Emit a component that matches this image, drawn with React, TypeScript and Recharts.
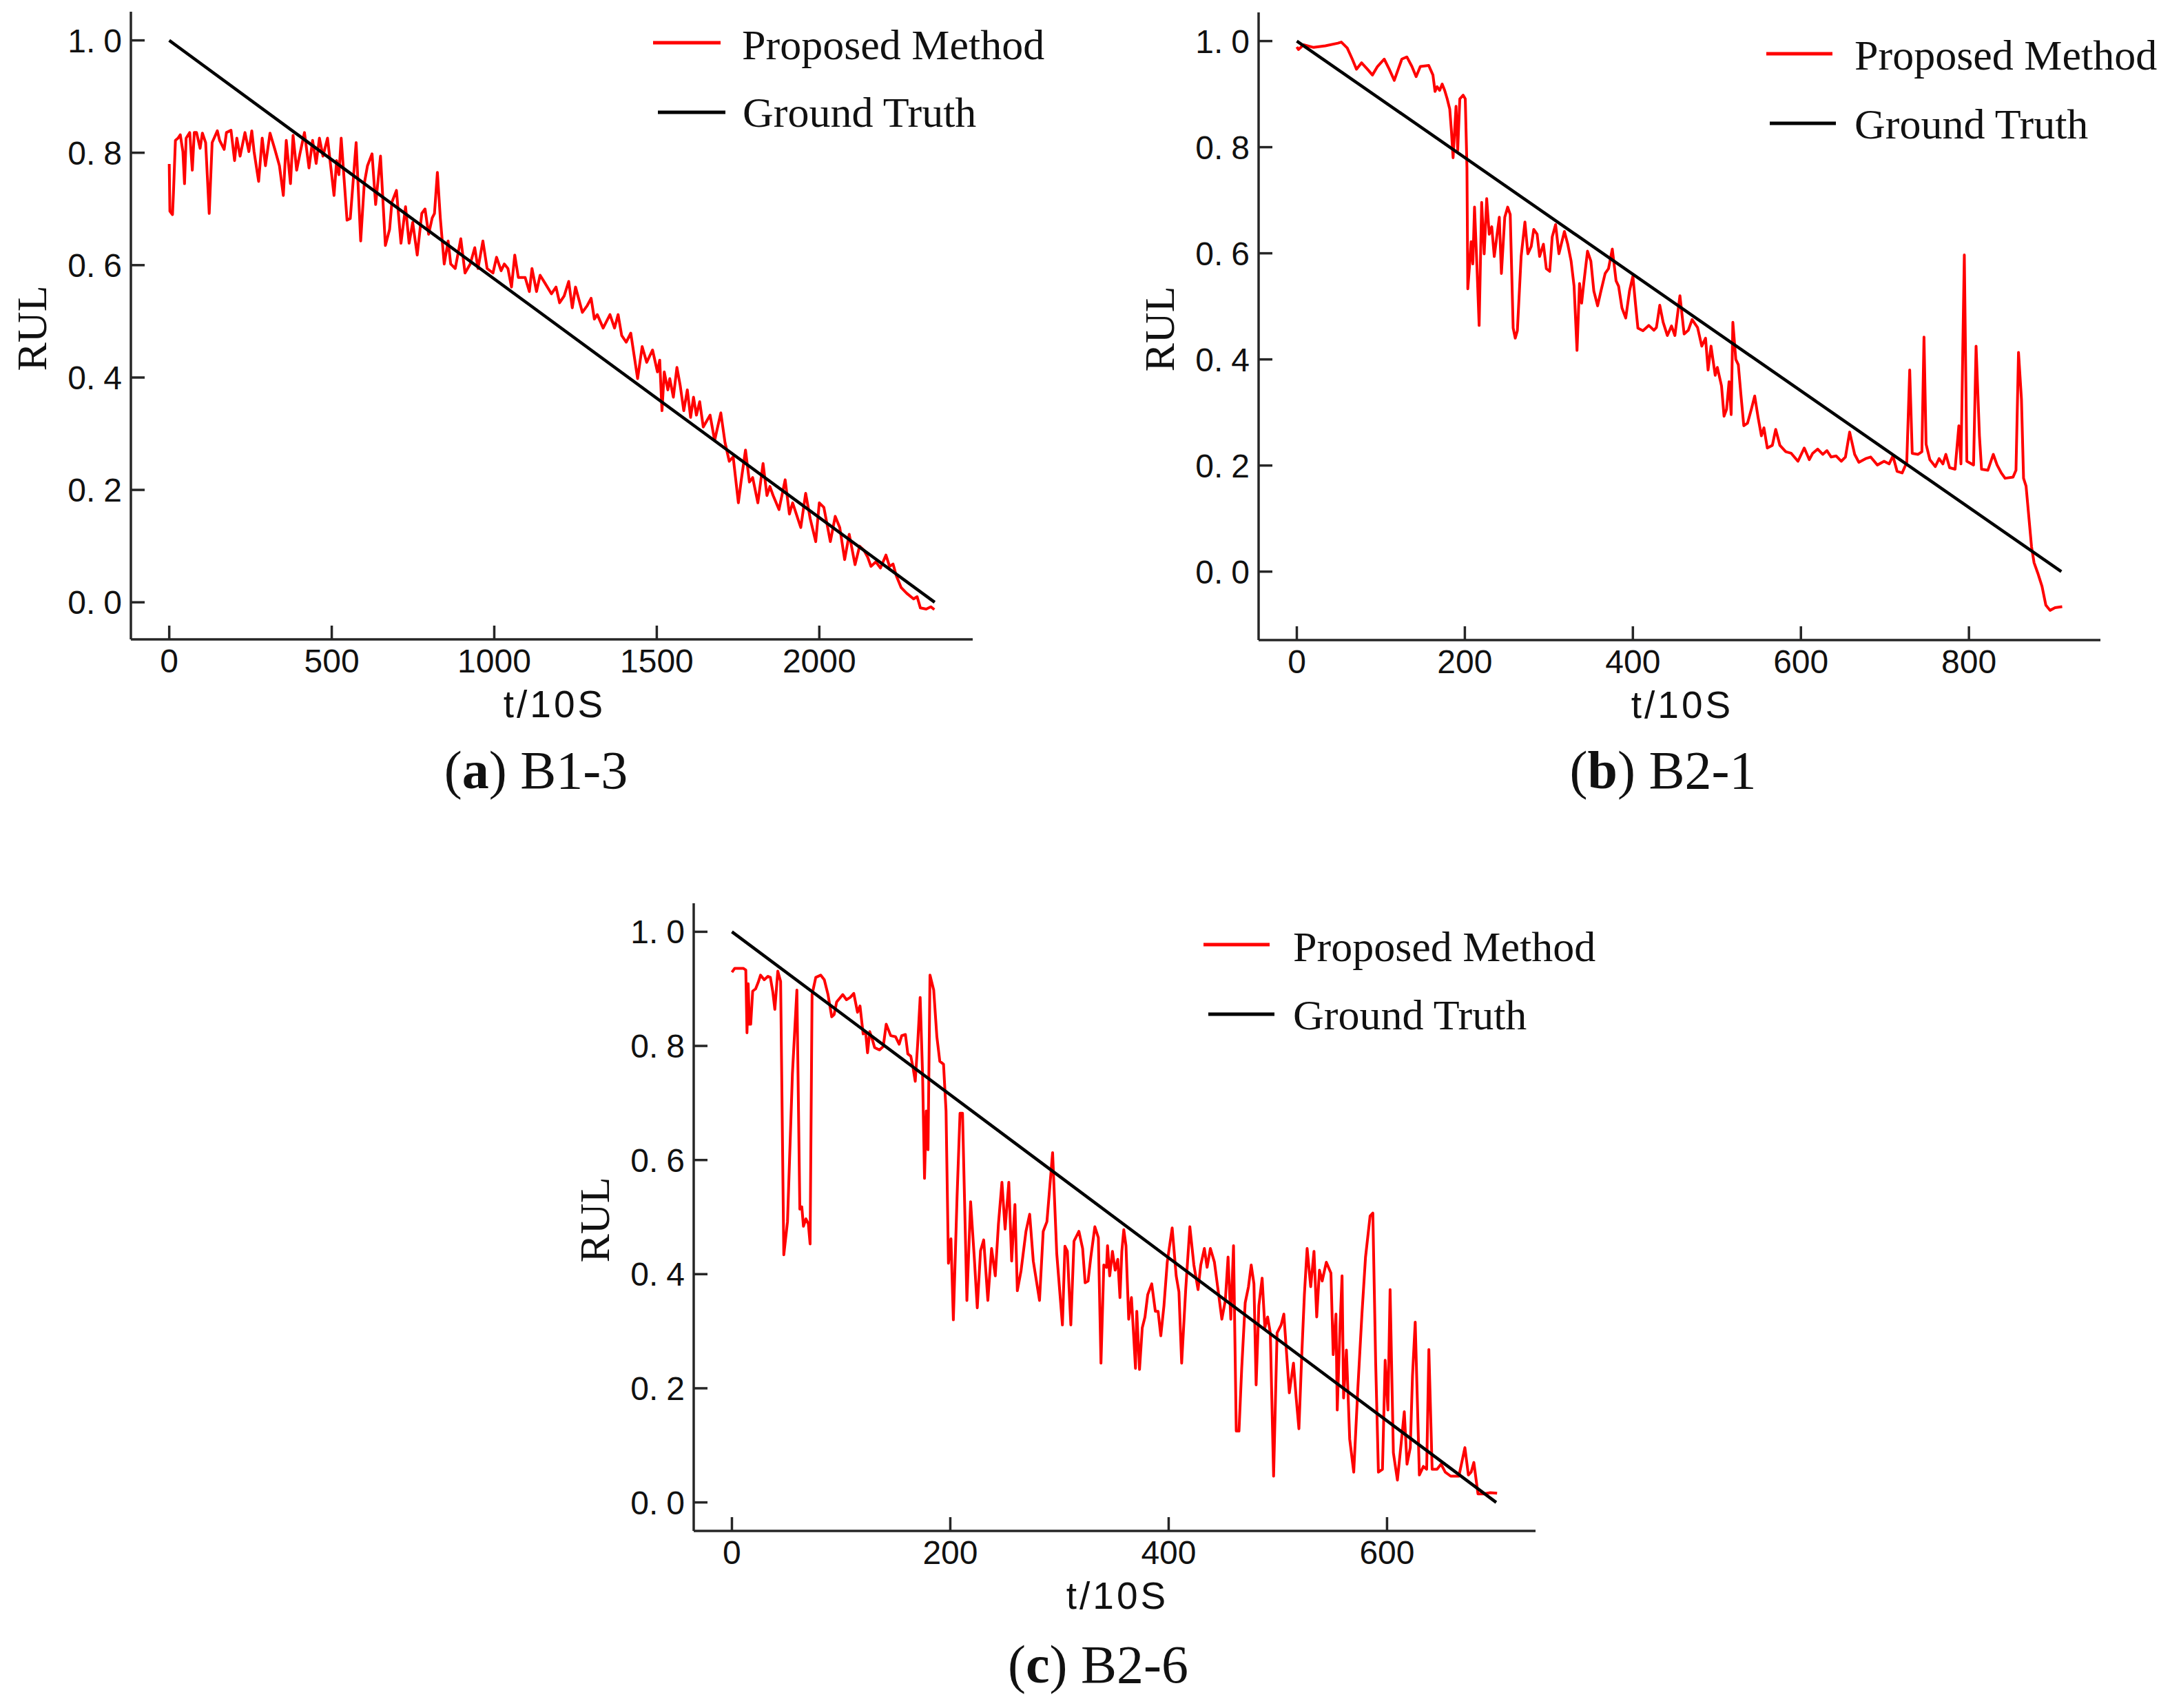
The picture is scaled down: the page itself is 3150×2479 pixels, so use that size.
import React from 'react';
import { LineChart, Line, XAxis, YAxis } from 'recharts';

type Pt = [number, number];

// RUL prediction, [t/10s, RUL]
const b13Pred: Pt[] = [
  [0, 0.78], [2, 0.696], [10, 0.69], [13, 0.729], [19, 0.822], [27, 0.826], [34, 0.832], [42, 0.802],
  [47, 0.745], [52, 0.826], [63, 0.836], [71, 0.769], [77, 0.836], [84, 0.836], [95, 0.808], [102, 0.835],
  [112, 0.818], [123, 0.692], [132, 0.818], [148, 0.839], [155, 0.822], [169, 0.806], [176, 0.836], [190, 0.84],
  [201, 0.786], [208, 0.826], [218, 0.794], [233, 0.836], [245, 0.802], [254, 0.839], [261, 0.802], [275, 0.749],
  [286, 0.826], [296, 0.777], [310, 0.835], [325, 0.806], [339, 0.777], [351, 0.724], [360, 0.822], [373, 0.745],
  [381, 0.831], [392, 0.769], [402, 0.798], [416, 0.836], [430, 0.773], [441, 0.822], [452, 0.781], [462, 0.826],
  [473, 0.794], [487, 0.826], [507, 0.724], [515, 0.786], [522, 0.761], [529, 0.826], [547, 0.68], [557, 0.683],
  [575, 0.818], [589, 0.643], [600, 0.745], [610, 0.777], [624, 0.798], [635, 0.708], [650, 0.794], [665, 0.635],
  [678, 0.664], [685, 0.712], [699, 0.733], [713, 0.639], [727, 0.704], [738, 0.639], [749, 0.676], [763, 0.618],
  [777, 0.692], [787, 0.7], [798, 0.655], [809, 0.684], [816, 0.692], [825, 0.765], [834, 0.684], [846, 0.602],
  [858, 0.643], [866, 0.602], [880, 0.594], [897, 0.647], [910, 0.586], [926, 0.602], [940, 0.631], [950, 0.594],
  [965, 0.643], [978, 0.594], [996, 0.586], [1007, 0.614], [1021, 0.59], [1031, 0.602], [1042, 0.594], [1053, 0.561],
  [1063, 0.618], [1074, 0.578], [1095, 0.578], [1108, 0.553], [1116, 0.594], [1130, 0.553], [1141, 0.582], [1155, 0.569],
  [1176, 0.549], [1190, 0.561], [1201, 0.533], [1215, 0.545], [1229, 0.571], [1240, 0.524], [1250, 0.561], [1271, 0.516],
  [1286, 0.528], [1298, 0.541], [1308, 0.504], [1317, 0.512], [1335, 0.488], [1356, 0.512], [1370, 0.488], [1381, 0.512],
  [1392, 0.475], [1406, 0.463], [1420, 0.479], [1441, 0.398], [1455, 0.455], [1469, 0.427], [1487, 0.449], [1502, 0.41],
  [1509, 0.431], [1516, 0.341], [1523, 0.41], [1534, 0.378], [1540, 0.398], [1551, 0.365], [1562, 0.418], [1572, 0.386],
  [1583, 0.341], [1594, 0.378], [1604, 0.329], [1613, 0.365], [1622, 0.333], [1632, 0.357], [1643, 0.312], [1664, 0.333],
  [1678, 0.288], [1697, 0.337], [1710, 0.284], [1723, 0.251], [1735, 0.259], [1751, 0.177], [1760, 0.218], [1773, 0.271],
  [1785, 0.214], [1795, 0.222], [1811, 0.177], [1827, 0.247], [1839, 0.19], [1848, 0.206], [1858, 0.19], [1876, 0.165],
  [1895, 0.218], [1908, 0.157], [1918, 0.177], [1943, 0.133], [1958, 0.194], [1972, 0.149], [1989, 0.108], [2000, 0.177],
  [2014, 0.169], [2034, 0.108], [2049, 0.153], [2063, 0.133], [2078, 0.076], [2092, 0.121], [2110, 0.067], [2124, 0.1],
  [2138, 0.092], [2149, 0.08], [2159, 0.064], [2174, 0.072], [2188, 0.061], [2205, 0.084], [2216, 0.064], [2227, 0.068],
  [2237, 0.047], [2252, 0.026], [2269, 0.016], [2290, 0.006], [2301, 0.01], [2311, -0.01], [2329, -0.012], [2343, -0.008],
  [2354, -0.013],
];

const b21Pred: Pt[] = [
  [0, 0.989], [2, 0.984], [8, 0.993], [20, 0.988], [34, 0.991], [49, 0.996], [53, 0.998], [60, 0.987],
  [66, 0.966], [71, 0.947], [77, 0.959], [84, 0.947], [90, 0.936], [96, 0.952], [104, 0.966], [110, 0.947],
  [116, 0.926], [125, 0.966], [131, 0.97], [137, 0.952], [142, 0.933], [147, 0.952], [157, 0.954], [162, 0.936],
  [164.5, 0.905], [167, 0.914], [170, 0.907], [173, 0.919], [176, 0.907], [179, 0.891], [182, 0.872], [184, 0.831],
  [186, 0.78], [188, 0.836], [189.5, 0.877], [191.5, 0.794], [194, 0.891], [198, 0.898], [200.5, 0.891], [202.5, 0.761],
  [203.5, 0.533], [205.5, 0.575], [207.5, 0.622], [209.5, 0.58], [211.5, 0.687], [214.5, 0.571], [217, 0.464], [220, 0.696],
  [223, 0.599], [226, 0.703], [229, 0.636], [232, 0.65], [235, 0.594], [238, 0.631], [241, 0.668], [243.5, 0.562],
  [247.5, 0.668], [251, 0.687], [254, 0.673], [257.5, 0.459], [260, 0.44], [262.5, 0.454], [267, 0.594], [271.5, 0.659],
  [275, 0.599], [279, 0.613], [282, 0.645], [286, 0.636], [289, 0.594], [293.5, 0.617], [297, 0.571], [301, 0.566],
  [304, 0.631], [308, 0.654], [312, 0.599], [315.5, 0.622], [318.5, 0.641], [322.5, 0.617], [326.5, 0.585], [330, 0.538],
  [333.5, 0.417], [336.5, 0.543], [339, 0.506], [341.5, 0.543], [346, 0.604], [350, 0.585], [353.5, 0.529], [358, 0.501],
  [362, 0.529], [367, 0.562], [371, 0.571], [375.5, 0.608], [380, 0.548], [383, 0.538], [387, 0.497], [391.5, 0.478],
  [396, 0.529], [400, 0.557], [403, 0.506], [406, 0.459], [412, 0.454], [419, 0.464], [425, 0.455], [428, 0.46],
  [432, 0.502], [436, 0.47], [441, 0.445], [446, 0.463], [450, 0.445], [456, 0.52], [461, 0.448], [466, 0.455],
  [470.5, 0.475], [477, 0.46], [482, 0.425], [486.5, 0.44], [489.5, 0.38], [493, 0.425], [498, 0.37], [500.5, 0.385],
  [505.5, 0.35], [508.5, 0.293], [511.5, 0.306], [514.5, 0.358], [517, 0.296], [519, 0.47], [522.5, 0.4], [525.5, 0.39],
  [528.5, 0.335], [532, 0.275], [536.5, 0.28], [541, 0.306], [545, 0.331], [549, 0.291], [553, 0.256], [556, 0.271],
  [560, 0.233], [566, 0.238], [570, 0.268], [575, 0.238], [582, 0.226], [588.5, 0.223], [596.5, 0.208], [604, 0.233],
  [610, 0.211], [614, 0.223], [620, 0.231], [626, 0.221], [631, 0.228], [636, 0.216], [642, 0.218], [648, 0.208],
  [653, 0.216], [658, 0.263], [664, 0.221], [669, 0.206], [677, 0.213], [683, 0.216], [691, 0.201], [699, 0.208],
  [705, 0.203], [709.5, 0.218], [714.5, 0.189], [720.5, 0.186], [726, 0.206], [729.5, 0.38], [732.5, 0.223], [739.5, 0.221],
  [744, 0.226], [746.5, 0.442], [749, 0.24], [753.5, 0.211], [760, 0.198], [764.5, 0.213], [769, 0.203], [772.5, 0.221],
  [777, 0.196], [783.5, 0.193], [788, 0.275], [790.5, 0.203], [794.5, 0.597], [797.5, 0.208], [805.5, 0.201], [808.5, 0.425],
  [812.5, 0.256], [815, 0.193], [822.5, 0.191], [829, 0.221], [833.5, 0.201], [838.5, 0.186], [843, 0.176], [852.5, 0.178],
  [856, 0.191], [859, 0.413], [862.5, 0.325], [865, 0.176], [868, 0.161], [874.5, 0.047], [877.5, 0.017], [882, -0.003],
  [887, -0.028], [891.5, -0.063], [896.5, -0.073], [902.5, -0.068], [911, -0.066],
];

const b26Pred: Pt[] = [
  [0, 0.929], [2.6, 0.936], [10.4, 0.936], [12.7, 0.933], [13.8, 0.823], [14.9, 0.909], [16, 0.838], [17.2, 0.838],
  [19, 0.896], [21.7, 0.9], [24, 0.911], [26.2, 0.924], [29.6, 0.916], [33, 0.922], [35.2, 0.92], [37.5, 0.894],
  [39.3, 0.864], [42, 0.931], [44.6, 0.913], [47.5, 0.434], [50.9, 0.492], [55.4, 0.751], [59.5, 0.898], [62.2, 0.514],
  [64, 0.518], [65.5, 0.484], [67.8, 0.497], [70, 0.488], [71.6, 0.453], [73.4, 0.89], [76.8, 0.92], [81.3, 0.924],
  [84.6, 0.916], [88, 0.89], [91.4, 0.851], [93.6, 0.855], [95.9, 0.877], [101.5, 0.89], [104.9, 0.881], [108.3, 0.885],
  [111.6, 0.892], [115, 0.859], [117.3, 0.87], [120.2, 0.821], [122.4, 0.825], [124.2, 0.788], [126.2, 0.825], [128.5, 0.812],
  [130.7, 0.797], [135.2, 0.793], [138.6, 0.799], [141.3, 0.838], [145.4, 0.818], [149.9, 0.816], [153.2, 0.803], [155.5, 0.818],
  [158.9, 0.82], [161.1, 0.786], [163.8, 0.782], [165.6, 0.765], [167.9, 0.738], [170.1, 0.803], [172.4, 0.885], [174.6, 0.751],
  [176.4, 0.568], [178, 0.686], [179.6, 0.618], [181.4, 0.924], [184.8, 0.898], [187.7, 0.816], [190.4, 0.773], [193.8, 0.768],
  [196.1, 0.686], [198.3, 0.419], [200.6, 0.462], [202.8, 0.32], [206.2, 0.536], [208.9, 0.682], [211.2, 0.682], [215.2, 0.354],
  [218.6, 0.527], [222, 0.428], [224.7, 0.341], [227.7, 0.441], [230.6, 0.46], [234.4, 0.354], [237.8, 0.445], [241.2, 0.397],
  [244.1, 0.488], [247.3, 0.561], [250.2, 0.479], [253.6, 0.561], [256.2, 0.423], [259.2, 0.522], [261.4, 0.371], [264.8, 0.406],
  [269.3, 0.475], [272.7, 0.505], [276, 0.423], [281.7, 0.354], [285.1, 0.475], [288.5, 0.492], [293.7, 0.613], [297.5, 0.436],
  [302.7, 0.311], [305, 0.449], [307.2, 0.44], [310.4, 0.311], [313.3, 0.458], [317.8, 0.475], [321.2, 0.445], [323.5, 0.385],
  [326.2, 0.388], [328.7, 0.43], [332.4, 0.483], [335.6, 0.464], [338, 0.244], [340.6, 0.416], [343.1, 0.412], [344, 0.45],
  [346, 0.397], [348.5, 0.44], [351, 0.407], [353.4, 0.426], [355.4, 0.359], [357.1, 0.44], [358.9, 0.478], [360.9, 0.45],
  [363.4, 0.321], [365.9, 0.359], [367.8, 0.297], [369.6, 0.235], [370.8, 0.335], [373.3, 0.233], [375.8, 0.306], [378.3, 0.325],
  [380.8, 0.364], [384.5, 0.383], [387.8, 0.335], [390.3, 0.335], [392.8, 0.292], [395.7, 0.345], [398.7, 0.421], [403.2, 0.481],
  [406.9, 0.397], [409.4, 0.369], [411.9, 0.244], [415.6, 0.373], [419.4, 0.483], [423.1, 0.416], [426.9, 0.373], [429.4, 0.416],
  [432.7, 0.445], [435.2, 0.412], [438.2, 0.445], [441.9, 0.421], [445.2, 0.373], [448.7, 0.321], [451.9, 0.354], [454.4, 0.43],
  [456.9, 0.321], [459.4, 0.45], [461.9, 0.125], [464.4, 0.125], [466.9, 0.235], [470.1, 0.35], [473.1, 0.378], [475.6, 0.416],
  [478.1, 0.383], [480.1, 0.206], [482.6, 0.345], [485.6, 0.393], [488.1, 0.306], [490.6, 0.325], [493.1, 0.297], [496.1, 0.046],
  [499.3, 0.297], [503, 0.311], [505.5, 0.33], [510.5, 0.192], [514.3, 0.244], [516.8, 0.183], [519.3, 0.129], [521.8, 0.254],
  [524.3, 0.364], [526.8, 0.445], [530.1, 0.378], [533.1, 0.44], [535.6, 0.325], [538.1, 0.407], [540.6, 0.388], [544.4, 0.421],
  [548.6, 0.402], [550.7, 0.259], [553.2, 0.33], [554.4, 0.162], [557, 0.311], [558.8, 0.397], [560.2, 0.183], [562.8, 0.267],
  [565.8, 0.111], [569.5, 0.053], [573.3, 0.201], [577, 0.33], [580.3, 0.43], [584.5, 0.502], [587, 0.507], [589.6, 0.244],
  [592.1, 0.053], [595.8, 0.058], [598.3, 0.249], [600.8, 0.162], [602.8, 0.373], [605.8, 0.087], [609.5, 0.039], [612.8, 0.101],
  [615.8, 0.159], [618.3, 0.067], [621.3, 0.096], [623.3, 0.221], [625.8, 0.316], [629.6, 0.048], [633.3, 0.063], [636.3, 0.058],
  [638.3, 0.268], [641.3, 0.058], [645.8, 0.058], [649.5, 0.067], [653.3, 0.053], [658.3, 0.046], [665.8, 0.046], [671.3, 0.096],
  [674.5, 0.048], [677, 0.053], [679.5, 0.07], [683.3, 0.015], [688.3, 0.015], [694.5, 0.017], [700.8, 0.016],
];

// ground truth RUL: straight decline from 1 to 0
const b13Truth: Pt[] = [[0, 1], [2355, 0]];
const b21Truth: Pt[] = [[0, 1], [910, 0]];
const b26Truth: Pt[] = [[0, 1], [700, 0]];

const rulTicks = [0, 0.2, 0.4, 0.6, 0.8, 1.0];
const b13TimeTicks = [0, 500, 1000, 1500, 2000];
const b21TimeTicks = [0, 200, 400, 600, 800];
const b26TimeTicks = [0, 200, 400, 600];

const seriesNames = ['Proposed Method', 'Ground Truth'];

const SANS = 'Liberation Sans, Arial, sans-serif';
const SERIF = 'Liberation Serif, Times New Roman, serif';
const AXIS = '#262626';

// plot box size and the room around it inside each chart
const PW = 1222;
const PH = 911;
const YW = 185;
const MT = 10;
const MR = 10;
const XH = 140;

const toRows = (pts: Pt[]) => pts.map(([t, v]) => ({ t, v }));

const XTick = (props: any) => {
  const { x, payload } = props;
  return (
    <g>
      <line x1={x} x2={x} y1={MT + PH} y2={MT + PH - 20} stroke={AXIS} strokeWidth={3.5} />
      <text x={x} y={MT + PH + 48} textAnchor="middle" fontFamily={SANS} fontSize={48} fill="#111">
        {payload.value}
      </text>
    </g>
  );
};

const YTick = (props: any) => {
  const { y, payload } = props;
  const [a, b] = Number(payload.value).toFixed(1).split('.');
  return (
    <g>
      <line x1={YW} x2={YW + 20} y1={y} y2={y} stroke={AXIS} strokeWidth={3.5} />
      <text x={YW - 13} y={y + 17} textAnchor="end" fontFamily={SANS} fontSize={48} fill="#111">
        {a}.<tspan dx={12}>{b}</tspan>
      </text>
    </g>
  );
};

const rulLabel = () => (
  <text
    transform={`translate(${YW - 144}, ${MT + PH / 2 + 4}) rotate(-90)`}
    textAnchor="middle"
    dominantBaseline="central"
    fontFamily={SERIF}
    fontSize={62}
    fill="#111"
  >
    RUL
  </text>
);

const timeLabel = () => (
  <text
    x={YW + PW / 2 + 4}
    y={MT + PH + 113}
    textAnchor="middle"
    fontFamily={SANS}
    fontSize={55}
    letterSpacing={4}
    fill="#111"
  >
    t/10S
  </text>
);

interface PanelProps {
  left: number;
  top: number;
  xDomain: [number, number];
  yDomain: [number, number];
  xTicks: number[];
  pred: Pt[];
  truth: Pt[];
}

const Panel = ({ left, top, xDomain, yDomain, xTicks, pred, truth }: PanelProps) => (
  <div style={{ position: 'absolute', left: left - YW, top: top - MT }}>
    <LineChart width={YW + PW + MR} height={MT + PH + XH} margin={{ top: MT, right: MR, left: 0, bottom: 0 }}>
      <XAxis
        dataKey="t"
        type="number"
        domain={xDomain}
        ticks={xTicks}
        interval={0}
        allowDataOverflow
        height={XH}
        tickLine={false}
        tickSize={0}
        tick={XTick}
        axisLine={{ stroke: AXIS, strokeWidth: 3.5 }}
        label={timeLabel}
      />
      <YAxis
        type="number"
        domain={yDomain}
        ticks={rulTicks}
        interval={0}
        allowDataOverflow
        width={YW}
        tickLine={false}
        tickSize={0}
        tick={YTick}
        axisLine={{ stroke: AXIS, strokeWidth: 3.5 }}
        label={rulLabel}
      />
      <Line
        data={toRows(pred)}
        dataKey="v"
        name={seriesNames[0]}
        type="linear"
        stroke="#ff0000"
        strokeWidth={4}
        strokeLinejoin="round"
        dot={false}
        isAnimationActive={false}
      />
      <Line
        data={toRows(truth)}
        dataKey="v"
        name={seriesNames[1]}
        type="linear"
        stroke="#000000"
        strokeWidth={4.5}
        dot={false}
        isAnimationActive={false}
      />
    </LineChart>
  </div>
);

// legend rows: [line x1, line x2, line y, text x, text baseline]
const LegendRows = ({ rows }: { rows: number[][] }) => (
  <g>
    {rows.map(([x1, x2, ly, tx, ty], i) => (
      <g key={i}>
        <line x1={x1} x2={x2} y1={ly} y2={ly} stroke={i === 0 ? '#ff0000' : '#000000'} strokeWidth={5} />
        <text x={tx} y={ty} fontFamily={SERIF} fontSize={62} fill="#111">
          {seriesNames[i]}
        </text>
      </g>
    ))}
  </g>
);

const Caption = ({ x, y, tag, name }: { x: number; y: number; tag: string; name: string }) => (
  <text x={x} y={y} textAnchor="middle" fontFamily={SERIF} fontSize={78} fill="#111">
    (<tspan fontWeight="bold">{tag}</tspan>) {name}
  </text>
);

export default function App() {
  return (
    <div style={{ position: 'absolute', left: 0, top: 0, width: 3150, height: 2479, background: '#fff', overflow: 'hidden' }}>
      <Panel left={190} top={17} xDomain={[-118, 2472]} yDomain={[-0.066, 1.051]} xTicks={b13TimeTicks} pred={b13Pred} truth={b13Truth} />
      <Panel left={1827} top={18} xDomain={[-45.5, 956.5]} yDomain={[-0.129, 1.054]} xTicks={b21TimeTicks} pred={b21Pred} truth={b21Truth} />
      <Panel left={1007} top={1311} xDomain={[-35, 736]} yDomain={[-0.05, 1.05]} xTicks={b26TimeTicks} pred={b26Pred} truth={b26Truth} />
      <svg width={3150} height={2479} style={{ position: 'absolute', left: 0, top: 0, pointerEvents: 'none' }}>
        <LegendRows rows={[[948, 1046, 62, 1077, 86], [955, 1053, 163, 1078, 184]]} />
        <LegendRows rows={[[2564, 2660, 78, 2692, 101], [2569, 2665, 179, 2692, 201]]} />
        <LegendRows rows={[[1747, 1843, 1371, 1877, 1395], [1754, 1850, 1472, 1877, 1494]]} />
        <Caption x={778} y={1144} tag="a" name="B1-3" />
        <Caption x={2414} y={1144} tag="b" name="B2-1" />
        <Caption x={1594} y={2442} tag="c" name="B2-6" />
      </svg>
    </div>
  );
}
